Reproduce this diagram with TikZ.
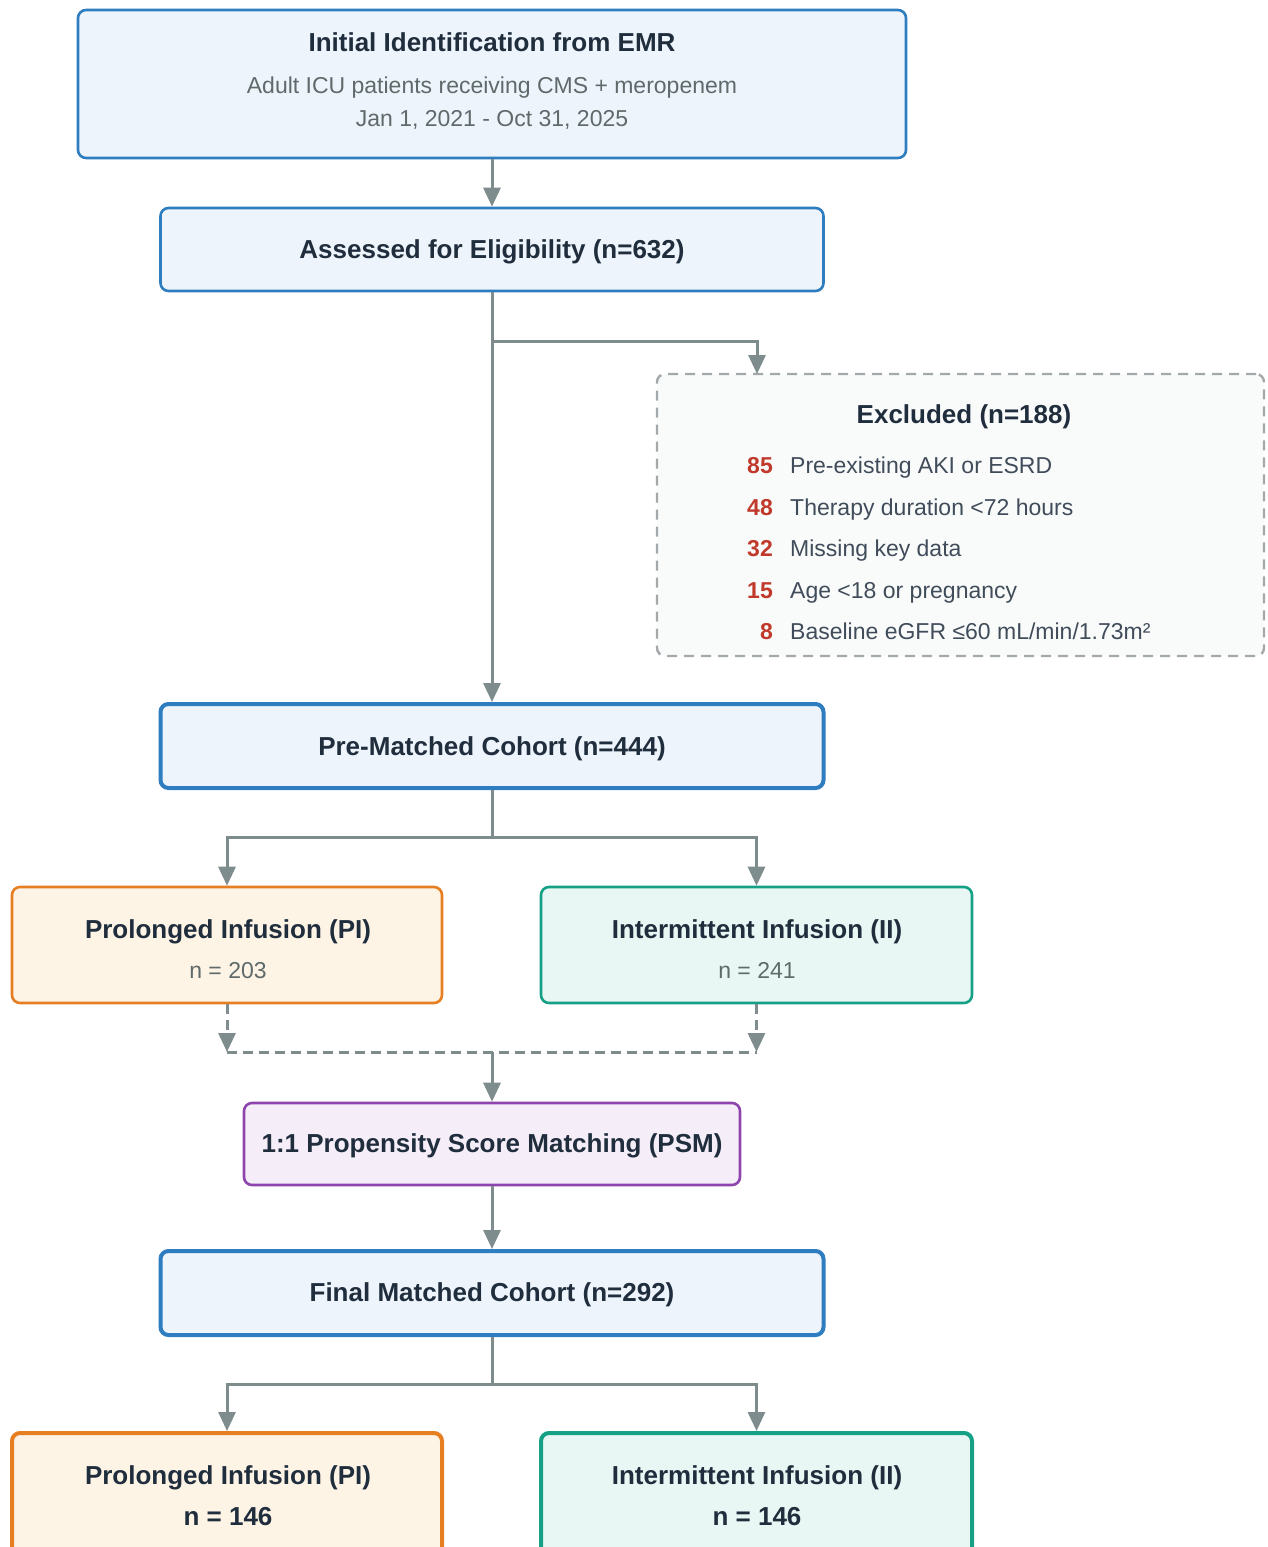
\documentclass[tikz,border=0pt]{standalone}
\usepackage{fontspec}
\setmainfont{Liberation Sans}
\usetikzlibrary{arrows.meta,calc}
\definecolor{bblue}{HTML}{2E7DC0}
\definecolor{fblue}{HTML}{EEF4FB}
\definecolor{borange}{HTML}{E67E22}
\definecolor{forange}{HTML}{FEF4E6}
\definecolor{bgreen}{HTML}{16A085}
\definecolor{fgreen}{HTML}{E8F7F3}
\definecolor{bpurple}{HTML}{8E44AD}
\definecolor{fpurple}{HTML}{F5EEF8}
\definecolor{lgray}{HTML}{7F8C8D}
\definecolor{dgray}{HTML}{A3A9AA}
\definecolor{fexcl}{HTML}{F9FBFB}
\definecolor{tdark}{HTML}{1F2D3D}
\definecolor{tgray}{HTML}{5F6A6A}
\definecolor{tred}{HTML}{C0392B}
\tikzset{
  box/.style={draw, rounded corners=8pt, line width=2.6pt, minimum height=#1, inner sep=0pt},
  bluebox/.style={box=#1, draw=bblue, fill=fblue},
  thickblue/.style={box=#1, draw=bblue, fill=fblue, line width=4pt},
  orangebox/.style={box=#1, draw=borange, fill=forange, minimum width=430pt},
  greenbox/.style={box=#1, draw=bgreen, fill=fgreen, minimum width=431pt},
  purplebox/.style={box=#1, draw=bpurple, fill=fpurple},
  exclbox/.style={draw=dgray, fill=fexcl, rounded corners=8pt, line width=2.4pt, dash pattern=on 10pt off 7pt, inner sep=0pt},
  ttl/.style={inner sep=0pt, text height=18.6pt, text depth=0pt, text=tdark, font=\fontsize{26pt}{31pt}\selectfont\bfseries},
  sub/.style={inner sep=0pt, text height=16.5pt, text depth=0pt, text=tgray, font=\fontsize{23pt}{28pt}\selectfont},
  item/.style={inner sep=0pt, text height=16.5pt, text depth=0pt, text=tdark!85, font=\fontsize{23pt}{28pt}\selectfont},
  num/.style={inner sep=0pt, text height=16.5pt, text depth=0pt, text=tred, font=\fontsize{23pt}{28pt}\selectfont\bfseries},
  conn/.style={draw=lgray, line width=3pt},
  arr/.style={conn, -{Triangle[width=17pt,length=19pt]}},
  dsh/.style={dash pattern=on 10pt off 6pt}
}
\begin{document}
\begin{tikzpicture}[x=1pt,y=-1pt]
\useasboundingbox (0,0) rectangle (1267,1547);
\begin{scope}
\clip (0,0) rectangle (1267,1547);
% boxes
\node[bluebox=148pt, minimum width=828pt] (b1) at (492,84) {};
\node[bluebox=83pt, minimum width=663pt] (b2) at (492,249.5) {};
\node[exclbox, minimum width=607pt, minimum height=282pt] (excl) at (960.5,515) {};
\node[thickblue=84pt, minimum width=663pt] (b3) at (492,746) {};
\node[orangebox=116pt] (pi1) at (227,945) {};
\node[greenbox=116pt] (ii1) at (756.5,945) {};
\node[purplebox=82pt, minimum width=496pt] (psm) at (492,1144) {};
\node[thickblue=84pt, minimum width=663pt] (fin) at (492,1293) {};
\node[orangebox=129pt, line width=4pt] (pi2) at (227,1497.5) {};
\node[greenbox=129pt, line width=4pt] (ii2) at (756.5,1497.5) {};
% texts
\node[ttl] (t1) at (492,42) {Initial Identification from EMR};
\node[sub] (t1a) at (492,85) {Adult ICU patients receiving CMS + meropenem};
\node[sub] (t1b) at (492,118) {Jan 1, 2021 - Oct 31, 2025};
\node[ttl] (t2) at (492,249) {Assessed for Eligibility (n=632)};
\node[ttl] (tex) at (964,414) {Excluded (n=188)};
\node[num, anchor=east] (n1) at (773,465) {85};
\node[item, anchor=west] (e1) at (790,465) {Pre-existing AKI or ESRD};
\node[num, anchor=east] (n2) at (773,507) {48};
\node[item, anchor=west] (e2) at (790,507) {Therapy duration <72 hours};
\node[num, anchor=east] (n3) at (773,548) {32};
\node[item, anchor=west] (e3) at (790,548) {Missing key data};
\node[num, anchor=east] (n4) at (773,590) {15};
\node[item, anchor=west] (e4) at (790,590) {Age <18 or pregnancy};
\node[num, anchor=east] (n5) at (773,631) {8};
\node[item, anchor=west] (e5) at (790,631) {Baseline eGFR ≤60 mL/min/1.73m²};
\node[ttl] (t3) at (492,746) {Pre-Matched Cohort (n=444)};
\node[ttl] (tpi1) at (228,929) {Prolonged Infusion (PI)};
\node[sub] (npi1) at (228,970) {n = 203};
\node[ttl] (tii1) at (757,929) {Intermittent Infusion (II)};
\node[sub] (nii1) at (757,970) {n = 241};
\node[ttl] (tpsm) at (492,1143) {1:1 Propensity Score Matching (PSM)};
\node[ttl] (tfin) at (492,1292) {Final Matched Cohort (n=292)};
\node[ttl] (tpi2) at (228,1475) {Prolonged Infusion (PI)};
\node[ttl] (npi2) at (228,1516) {n = 146};
\node[ttl] (tii2) at (757,1475) {Intermittent Infusion (II)};
\node[ttl] (nii2) at (757,1516) {n = 146};
% junction coordinates
\coordinate (j1) at (492,341);
\coordinate (exin) at (757,374);
\coordinate (j2) at (492,837);
\coordinate (m1) at (227,1052);
\coordinate (m2) at (756.5,1052);
\coordinate (j3) at (492,1052);
\coordinate (j4) at (492,1384);
% connectors
\draw[arr] (b1.south) -- (b2.north);
\draw[arr] (b2.south) -- (b3.north);
\draw[arr] (j1) -| (exin);
\draw[conn] (b3.south) -- (j2);
\draw[arr] (j2) -| (pi1.north);
\draw[arr] (j2) -| (ii1.north);
\draw[arr, dsh] (pi1.south) -- (m1);
\draw[arr, dsh] (ii1.south) -- (m2);
\draw[conn, dsh] (m1) -- (m2);
\draw[arr] (j3) -- (psm.north);
\draw[arr] (psm.south) -- (fin.north);
\draw[conn] (fin.south) -- (j4);
\draw[arr] (j4) -| (pi2.north);
\draw[arr] (j4) -| (ii2.north);
\end{scope}
\end{tikzpicture}
\end{document}
